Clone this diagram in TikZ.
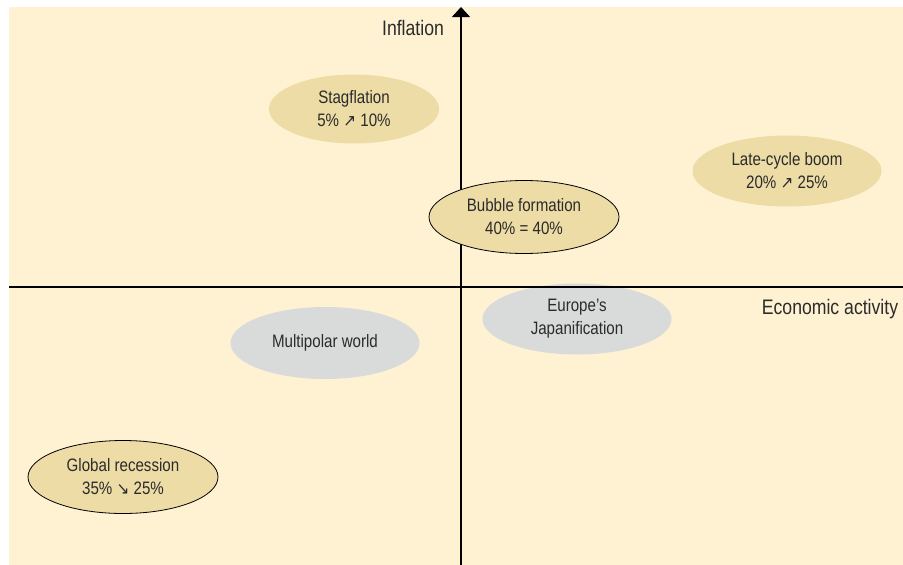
\documentclass[tikz,border=0pt]{standalone}
\usepackage{fontspec}
\setmainfont{Liberation Sans}[FakeStretch=0.84]
\newfontfamily\symf{DejaVu Sans}[FakeStretch=0.9]
\usetikzlibrary{shapes.geometric,arrows.meta}
\definecolor{bgc}{HTML}{FEF2D3}
\definecolor{tanc}{HTML}{EDDCA6}
\definecolor{greyc}{HTML}{D9DADA}
\definecolor{txt}{HTML}{2B2B2B}
\newcommand{\upar}{{\symf\fontsize{17}{17}\selectfont ↗}}
\newcommand{\dnar}{{\symf\fontsize{17}{17}\selectfont ↘}}
\begin{document}
\begin{tikzpicture}[x=1pt,y=-1pt,
  scen/.style={ellipse, inner sep=0pt, minimum width=190pt, minimum height=72pt,
    align=center, font=\fontsize{18}{23}\selectfont, text=txt},
  tanb/.style={scen, fill=tanc},
  tanbd/.style={scen, fill=tanc, draw=black, line width=0.8pt},
  greyb/.style={scen, fill=greyc},
  axis/.style={line width=1.2pt, black},
  axlabel/.style={font=\fontsize{21}{24}\selectfont, text=txt, inner sep=0pt}]
\useasboundingbox (0,0) rectangle (903,565);
\fill[bgc] (9,7) rectangle (903,565);
% vertical axis
\coordinate (vb) at (461,565);
\coordinate (vt) at (461,7);
\draw[axis, -{Triangle[width=18pt,length=10pt]}] (vb) -- (vt);
% scenarios
\node[tanb, minimum width=170pt, minimum height=69pt] (stag) at (354,109) {Stagflation\\5\% \upar\ 10\%};
\node[tanb, minimum width=189pt, minimum height=71pt] (late) at (787,171) {Late-cycle boom\\20\% \upar\ 25\%};
\node[tanbd, minimum width=190pt, minimum height=73pt] (bub) at (524,217) {Bubble formation\\40\% = 40\%};
\node[greyb, minimum width=189pt, minimum height=71pt] (eur) at (577,319) {Europe’s\\Japanification};
\node[greyb, minimum width=189pt, minimum height=72pt] (multi) at (325,343) {Multipolar world};
\node[tanbd, minimum width=190pt, minimum height=73pt] (glob) at (123,477) {Global recession\\35\% \dnar\ 25\%};
% horizontal axis
\coordinate (hl) at (9,287);
\coordinate (hr) at (903,287);
\draw[axis] (hl) -- (hr);
% axis labels
\node[axlabel] (infl) at (413,28) {Inflation};
\node[axlabel] (econ) at (830,309) {Economic activity};
\end{tikzpicture}
\end{document}
